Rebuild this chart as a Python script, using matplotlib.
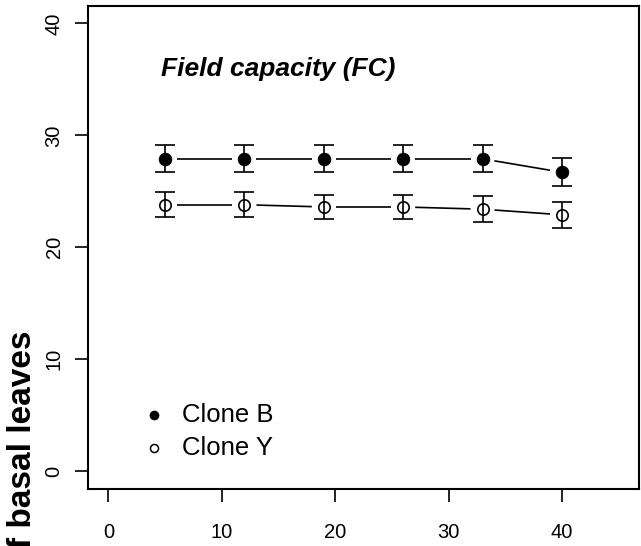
import numpy as np
import matplotlib
matplotlib.use("Agg")
import matplotlib.pyplot as plt

plt.rcParams['font.family'] = ['Liberation Sans', 'DejaVu Sans']

# data
days = [5, 12, 19, 26, 33, 40]
clone_b = [27.9, 27.9, 27.9, 27.9, 27.9, 26.7]
clone_b_err = [1.2, 1.2, 1.2, 1.2, 1.2, 1.25]
clone_y = [23.8, 23.8, 23.6, 23.6, 23.4, 22.9]
clone_y_err = [1.1, 1.1, 1.1, 1.1, 1.15, 1.15]
series_names = ["Clone B", "Clone Y"]
x_ticks = [0, 10, 20, 30, 40]
y_ticks = [0, 10, 20, 30, 40]

W, H = 641, 546
fig = plt.figure(figsize=(W / 100, H / 100), dpi=100)

# plot box in pixels (left, top, right, bottom)
L, T, R, B = 88, 5.5, 639, 489
ax = fig.add_axes([L / W, (H - B) / H, (R - L) / W, (B - T) / H])
ax.set_xlim(-1.8, 46.8)
ax.set_ylim(-1.6, 41.6)


def px(x, y):
    return x / W, (H - y) / H


def gapped_lines(xs, ys, gap=12):
    # R type="b": segments that stop short of the points
    pts = ax.transData.transform(np.column_stack([xs, ys]))
    inv = ax.transData.inverted()
    for p0, p1 in zip(pts[:-1], pts[1:]):
        d = p1 - p0
        u = d / np.hypot(*d)
        a = inv.transform(p0 + u * gap)
        b = inv.transform(p1 - u * gap)
        ax.plot([a[0], b[0]], [a[1], b[1]], color="black", lw=1.2,
                solid_capstyle="butt")


gapped_lines(days, clone_b)
gapped_lines(days, clone_y)

ax.errorbar(days, clone_b, yerr=clone_b_err, fmt="none", ecolor="black",
            elinewidth=1.2, capsize=7.2, capthick=1.2)
ax.errorbar(days, clone_y, yerr=clone_y_err, fmt="none", ecolor="black",
            elinewidth=1.2, capsize=7.2, capthick=1.2)
ax.plot(days, clone_b, "o", color="black", ms=9.2, mew=0.5, ls="none", zorder=3)
ax.plot(days, clone_y, "o", mfc="none", mec="black", ms=8.2, mew=1.2,
        ls="none", zorder=3)

ax.set_xticks(x_ticks)
ax.set_yticks(y_ticks)
ax.set_yticklabels([str(v) for v in y_ticks], rotation=90, va="center")
ax.tick_params(direction="out", length=9.5, width=1.2, labelsize=14.5,
               color="black")
ax.tick_params(axis="x", pad=15)
ax.tick_params(axis="y", pad=8)
for s in ax.spines.values():
    s.set_linewidth(1.5)

# title inside the plot
fig.text(*px(161, 76), "Field capacity (FC)", fontsize=19, fontweight="bold",
         fontstyle="italic", ha="left", va="baseline")

# legend drawn by hand like R's legend(bty="n")
leg_y = [415, 448]
fig.lines.append(plt.Line2D([px(154, 0)[0]], [px(0, leg_y[0])[1]], marker="o",
                            color="black", ms=6.5, mew=0.5, ls="none",
                            transform=fig.transFigure))
fig.lines.append(plt.Line2D([px(154, 0)[0]], [px(0, leg_y[1])[1]], marker="o",
                            mfc="none", mec="black", ms=5.8, mew=1.1,
                            ls="none", transform=fig.transFigure))
for name, yy in zip(series_names, leg_y):
    fig.text(*px(182, yy), name, fontsize=18.5, ha="left", va="center")

# y label, partly cut off by the figure edge
fig.text(*px(31, 330), "Number of basal leaves", fontsize=24,
         fontweight="bold", rotation=90, rotation_mode="anchor",
         ha="right", va="baseline")

fig.savefig("out.png", dpi=100)
